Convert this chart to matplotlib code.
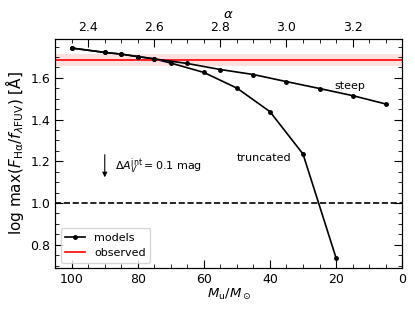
import numpy as np
import matplotlib.pyplot as plt

# steep IMF slope models (top axis, alpha)
alpha_steep = [2.35, 2.45, 2.5, 2.55, 2.6, 2.7, 2.8, 2.9, 3.0, 3.1, 3.2, 3.3]
y_steep = [1.743, 1.722, 1.714, 1.702, 1.691, 1.669, 1.640, 1.616, 1.582, 1.549, 1.515, 1.475]

# truncated IMF models (bottom axis, upper mass)
mu_trunc = [100, 90, 85, 80, 75, 70, 60, 50, 40, 30, 20]
y_trunc = [1.743, 1.722, 1.714, 1.702, 1.691, 1.671, 1.626, 1.551, 1.438, 1.235, 0.737]

obs_val = 1.685
obs_err = 0.03

fs = 9
plt.rcParams['font.size'] = fs
plt.rcParams['mathtext.fontset'] = 'dejavusans'

fig = plt.figure(figsize=(4.15, 3.11), dpi=100)
ax = fig.add_axes([0.133, 0.138, 0.836, 0.737])

ax.plot(mu_trunc, y_trunc, 'k.-', ms=5, lw=1.2, label='models')
ax.axhline(obs_val, color='red', lw=1.2, label='observed')
ax.axhspan(obs_val - obs_err, obs_val + obs_err, color='red', alpha=0.12, lw=0)
ax.axhline(1.0, color='k', ls='--', lw=1.2)

ax.set_xlim(105, 0)
ax.set_ylim(0.688, 1.787)
ax.set_xticks([100, 80, 60, 40, 20, 0])
ax.set_xticks(np.arange(0, 106, 5), minor=True)
ax.set_yticks([0.8, 1.0, 1.2, 1.4, 1.6])
ax.set_yticks(np.arange(0.7, 1.79, 0.05), minor=True)
ax.tick_params(which='both', direction='in', right=True, top=False, labelsize=fs)
ax.tick_params(which='major', length=6)
ax.tick_params(which='minor', length=3)
ax.set_xlabel(r'$M_{\rm u}/M_\odot$', fontsize=9.5, labelpad=1)
ax.set_ylabel(r'log max($F_{\rm H\alpha}/f_{\lambda{\rm FUV}}$) [Å]', fontsize=11, labelpad=3)

ax2 = ax.twiny()
ax2.plot(alpha_steep, y_steep, 'k.-', ms=5, lw=1.2)
ax2.set_xlim(2.30, 3.35)
ax2.set_xticks([2.4, 2.6, 2.8, 3.0, 3.2])
ax2.set_xticks(np.arange(2.30, 3.36, 0.05), minor=True)
ax2.tick_params(which='both', direction='in', labelsize=fs)
ax2.tick_params(which='major', length=6)
ax2.tick_params(which='minor', length=3)
ax2.set_xlabel(r'$\alpha$', fontsize=9.5, labelpad=2)

ax.annotate('', xy=(90, 1.11), xytext=(90, 1.245),
            arrowprops=dict(arrowstyle='-|>', color='k', lw=0.8, mutation_scale=7))
ax.text(87, 1.176, r'$\Delta A_V^{\rm int} = 0.1$ mag', va='center', ha='left', fontsize=8)
ax.text(20.5, 1.56, 'steep', va='center', ha='left', fontsize=8)
ax.text(50, 1.216, 'truncated', va='center', ha='left', fontsize=8)

ax.legend(loc='lower left', fontsize=8, handlelength=1.8)

fig.savefig('out.png', dpi=100)
